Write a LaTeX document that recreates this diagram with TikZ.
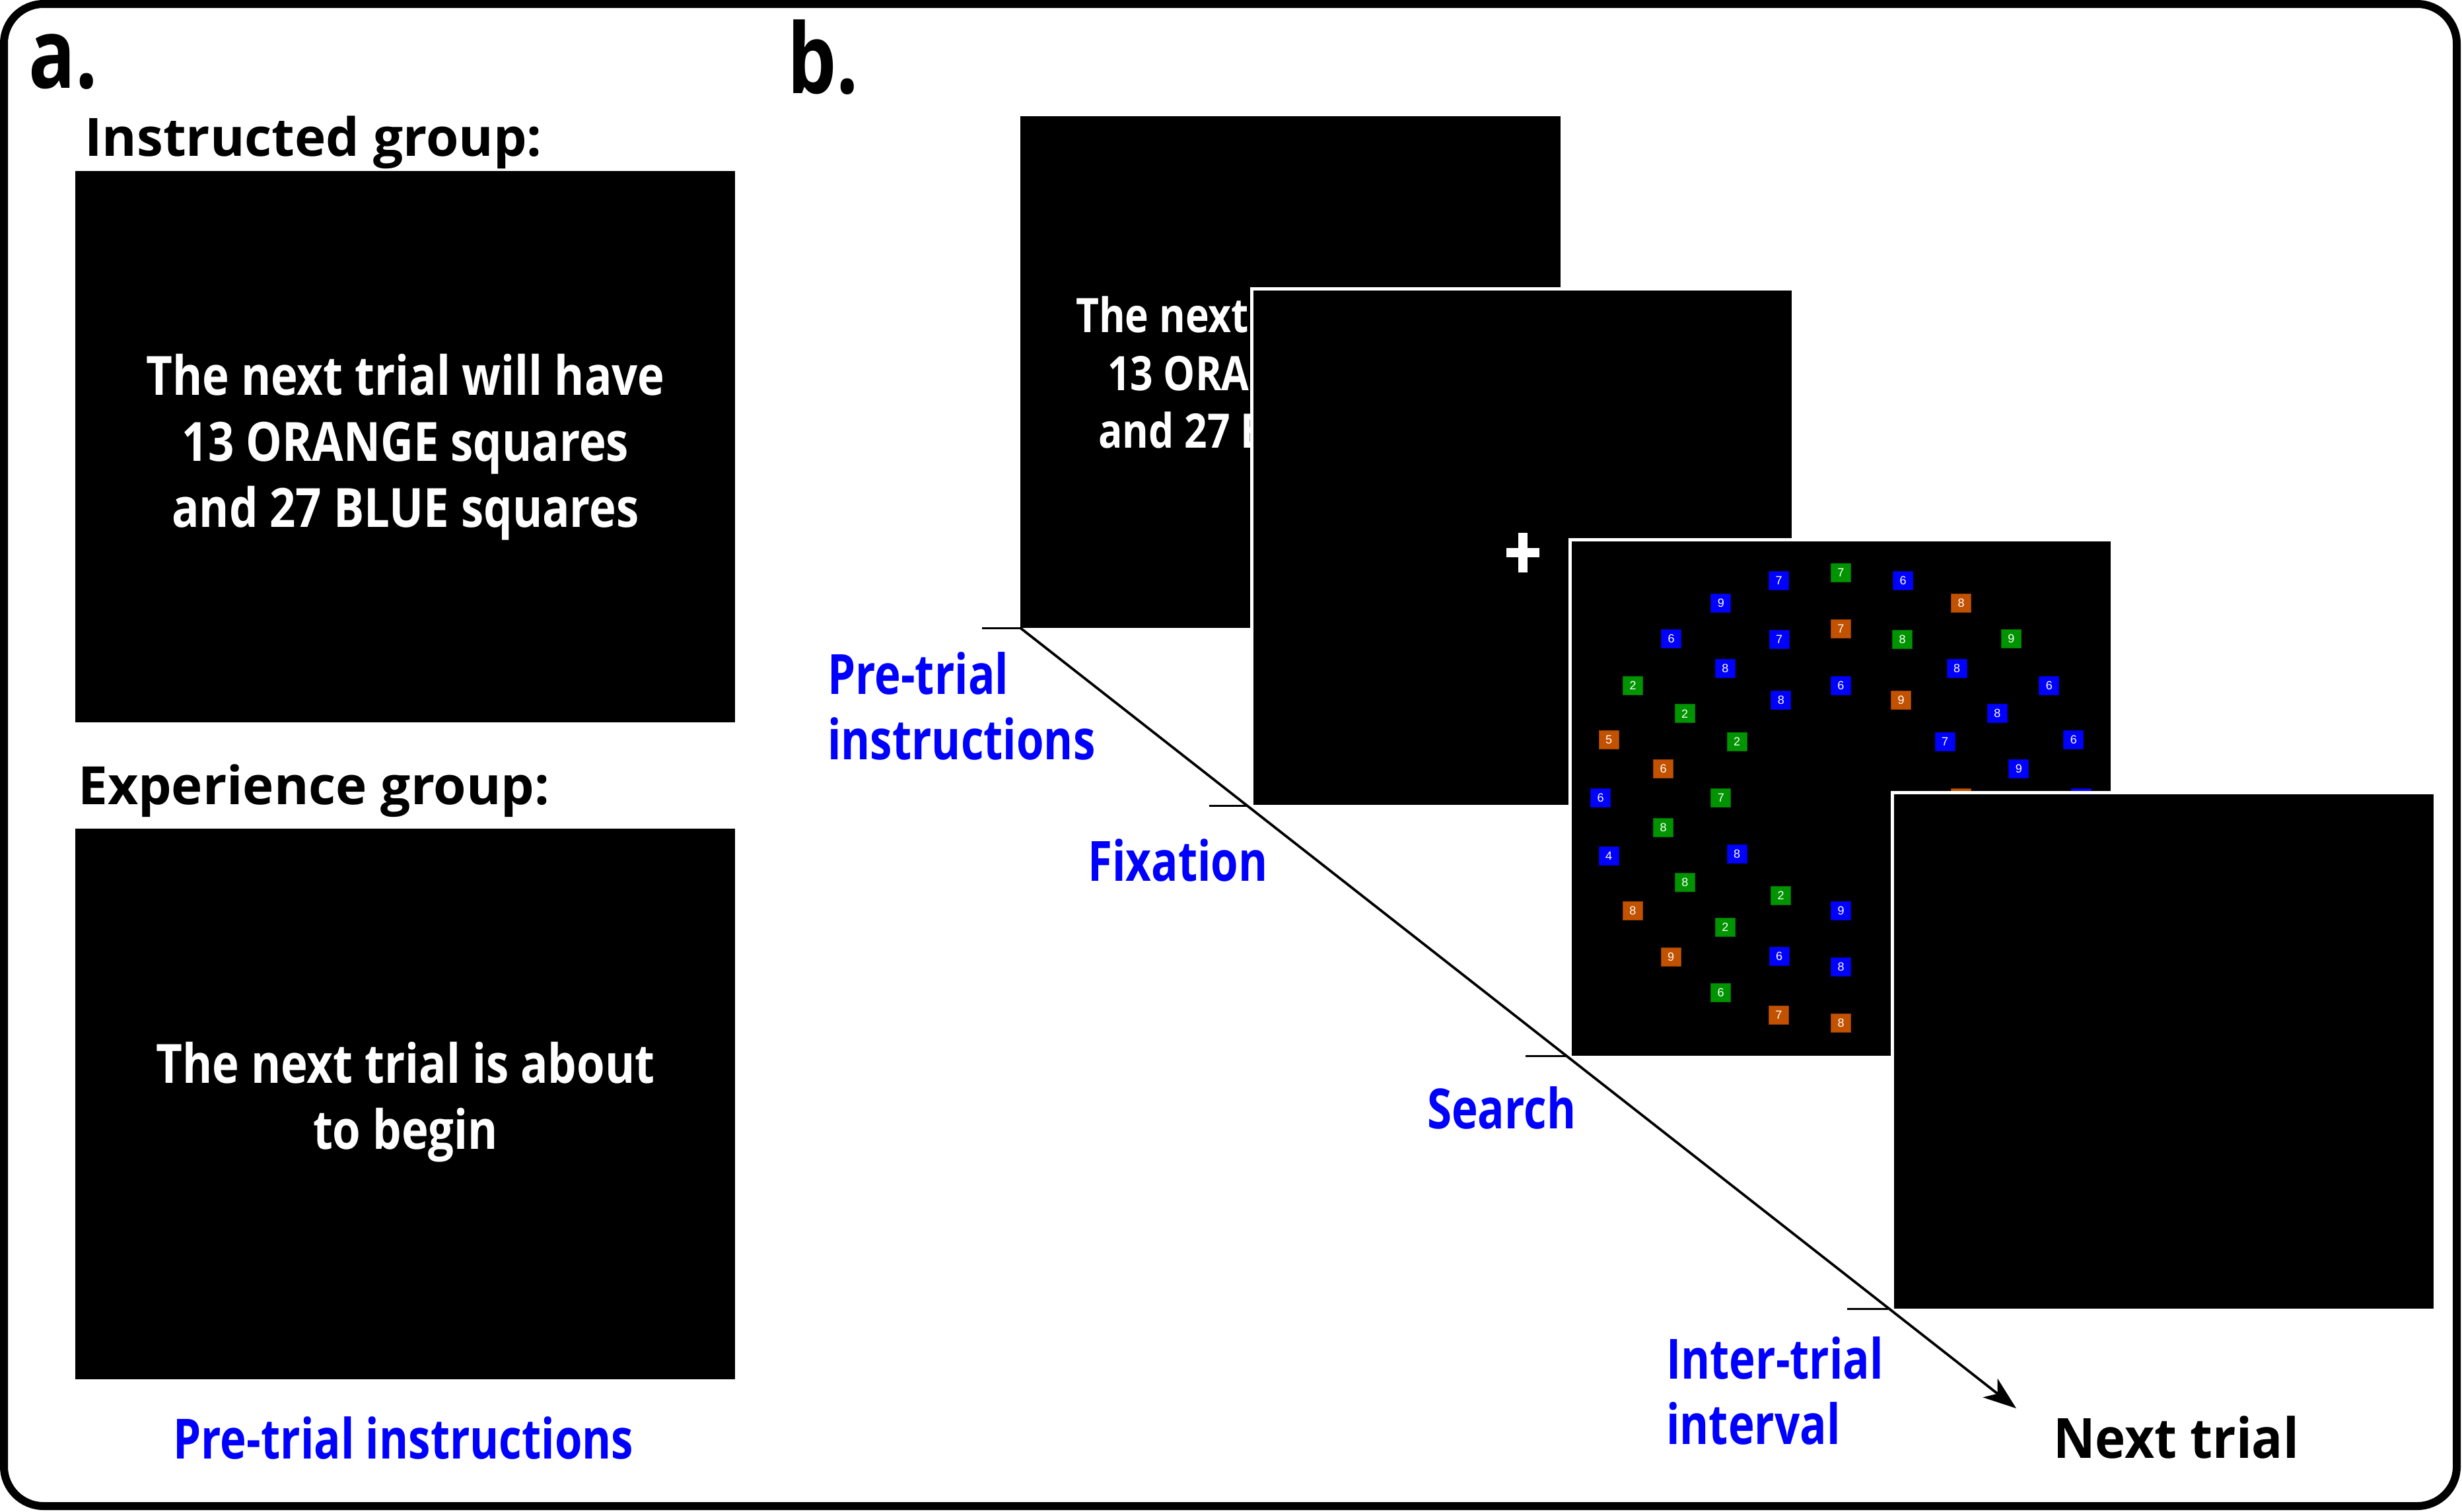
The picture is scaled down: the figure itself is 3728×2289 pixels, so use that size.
\documentclass[tikz,border=0pt]{standalone}
\usepackage{fontspec}
\usetikzlibrary{arrows.meta}
\newfontfamily\seg{Open Sans}[FakeStretch=0.8]
\newfontfamily\segp{Open Sans}[FakeStretch=0.84]
\newfontfamily\segw{Open Sans}[FakeStretch=0.93]
\newfontfamily\segn{Open Sans}
\newfontfamily\arialf{Liberation Sans}
\definecolor{sqblue}{RGB}{0,0,255}
\definecolor{sqgreen}{RGB}{0,148,0}
\definecolor{sqorange}{RGB}{194,81,0}
\definecolor{lblblue}{RGB}{0,0,255}
\begin{document}
\begin{tikzpicture}[x=1pt,y=-1pt,
  panel/.style={fill=black, inner sep=0pt, outer sep=0pt, anchor=north west},
  wpanel/.style={panel, draw=white, line width=5pt},
  hdr/.style={font=\seg\bfseries\fontsize{147}{150}\selectfont, inner sep=0pt, anchor=base west},
  grp/.style={font=\segn\bfseries\fontsize{80}{90}\selectfont, inner sep=0pt, anchor=base west},
  ptxt/.style={font=\segp\bfseries\fontsize{82}{100}\selectfont, text=white, inner sep=0pt, anchor=base},
  btxt/.style={font=\segp\bfseries\fontsize{72}{88}\selectfont, text=white, inner sep=0pt, anchor=base},
  lbl/.style={font=\seg\bfseries\fontsize{84}{100}\selectfont, text=lblblue, inner sep=0pt, anchor=base west},
  nxt/.style={font=\segw\bfseries\fontsize{84}{100}\selectfont, text=black, inner sep=0pt, anchor=base west},
  tickline/.style={line width=3.3pt},
  arrowline/.style={line width=3.8pt, -{Stealth[length=50pt,width=36pt,inset=14pt]}},
  sq/.style={minimum width=30pt, minimum height=28pt, inner sep=0pt, outer sep=0pt, line width=1pt,
    text=white, font=\arialf\fontsize{18}{18}\selectfont}
]
\useasboundingbox (0,0) rectangle (3728,2289);
\node[draw=black, line width=12pt, rounded corners=60pt, minimum width=3714pt, minimum height=2275pt,
  anchor=north west, inner sep=0pt, outer sep=0pt] (frame) at (6,6) {};

% ---- panel a ----
\node[hdr] (lbla) at (43,133) {a.};
\node[grp] (gi) at (128,236) {Instructed group:};
\node[panel, minimum width=999pt, minimum height=835pt] (instr) at (114,259) {};
\node[ptxt] (ia1) at (614,598) {The next trial will have};
\node[ptxt] (ia2) at (614,698) {13 ORANGE squares};
\node[ptxt] (ia3) at (614,798) {and 27 BLUE squares};
\node[grp] (ge) at (118,1218) {Experience group:};
\node[panel, minimum width=999pt, minimum height=834pt] (exper) at (114,1255) {};
\node[ptxt] (ea1) at (614,1640) {The next trial is about};
\node[ptxt] (ea2) at (614,1740) {to begin};
\node[lbl, anchor=base] (pti) at (611,2209) {Pre-trial instructions};

% ---- panel b ----
\node[hdr] (lblb) at (1192,141) {b.};
\node[panel, minimum width=818pt, minimum height=775pt] (pre) at (1545,176) {};
\node[btxt] (pb1) at (1974,503) {The next trial will have};
\node[btxt] (pb2) at (1974,591) {13 ORANGE squares};
\node[btxt] (pb3) at (1974,678) {and 27 BLUE squares};

\node[wpanel, minimum width=820pt, minimum height=784pt] (fix) at (1895.5,437.5) {};
\fill[white] (2281,830) rectangle (2331,843.5);
\fill[white] (2299,807) rectangle (2312.5,867);

\node[wpanel, minimum width=821pt, minimum height=784pt] (search) at (2377.5,817.5) {};
\foreach \x/\y/\c/\d [count=\i] in {
2693.6/879.3/sqblue/7, 2787.4/867.7/sqgreen/7, 2881.7/879.3/sqblue/6,
2605.8/913.3/sqblue/9, 2969.6/913.3/sqorange/8, 2787.4/952.7/sqorange/7,
2530.5/967.7/sqblue/6, 2694.2/968.3/sqblue/7, 2880.7/968.3/sqgreen/8,
3045.4/967.3/sqgreen/9, 2612.3/1012.7/sqblue/8, 2963.1/1012.7/sqblue/8,
2472.5/1038.3/sqgreen/2, 2787.4/1038.3/sqblue/6, 3102.9/1038.3/sqblue/6,
2696.9/1060.7/sqblue/8, 2878.5/1060.7/sqorange/9, 2551.1/1080.7/sqgreen/2,
3024.3/1080.7/sqblue/8, 2436.1/1120/sqorange/5, 2630.2/1123.3/sqgreen/2,
2945.2/1123.3/sqblue/7, 3139.8/1120/sqblue/6, 2518.5/1164.3/sqorange/6,
3056.8/1164.3/sqblue/9, 2423.7/1208.7/sqblue/6, 2605.8/1208.7/sqgreen/7,
2969.6/1208.7/sqorange/{}, 3151.7/1208.7/sqblue/{},
2518.7/1253/sqgreen/8, 2436/1296.7/sqblue/4, 2630/1293.3/sqblue/8,
2551.3/1336.3/sqgreen/8, 2696.7/1356/sqgreen/2, 2878.5/1356/sqorange/{},
2472.3/1379/sqorange/8, 2787.7/1379/sqblue/9, 2612.3/1404.3/sqgreen/2,
2530/1449.3/sqorange/9, 2694/1448.7/sqblue/6, 2787.7/1464/sqblue/8,
2605.7/1503.3/sqgreen/6, 2693.3/1537.3/sqorange/7, 2787.7/1549.3/sqorange/8}
{ \node[sq, fill=\c, draw=\c!75!black] (sq\i) at (\x,\y) {\d}; }

\node[wpanel, minimum width=822pt, minimum height=784pt] (iti) at (2865.5,1200.5) {};

% ---- timeline ----
\coordinate (aend) at (3053,2133);
\coordinate (t1a) at (1487,951.5);  \coordinate (t1b) at (1545,951.5);
\coordinate (t2a) at (1831,1220.5); \coordinate (t2b) at (1889,1220.5);
\coordinate (t3a) at (2310,1599.5); \coordinate (t3b) at (2371,1599.5);
\coordinate (t4a) at (2797,1982.5); \coordinate (t4b) at (2859,1982.5);
\draw[tickline] (t1a) -- (t1b);
\draw[tickline] (t2a) -- (t2b);
\draw[tickline] (t3a) -- (t3b);
\draw[tickline] (t4a) -- (t4b);
\draw[arrowline] (pre.south west) -- (aend);

\node[lbl] (lpre1) at (1253,1051) {Pre-trial};
\node[lbl] (lpre2) at (1253,1150) {instructions};
\node[lbl] (lfix) at (1647,1334) {Fixation};
\node[lbl] (lsearch) at (2161,1709) {Search};
\node[lbl] (liti1) at (2523,2088) {Inter-trial};
\node[lbl] (liti2) at (2523,2187) {interval};
\node[nxt] (lnext) at (3109,2208) {Next trial};
\end{tikzpicture}
\end{document}
